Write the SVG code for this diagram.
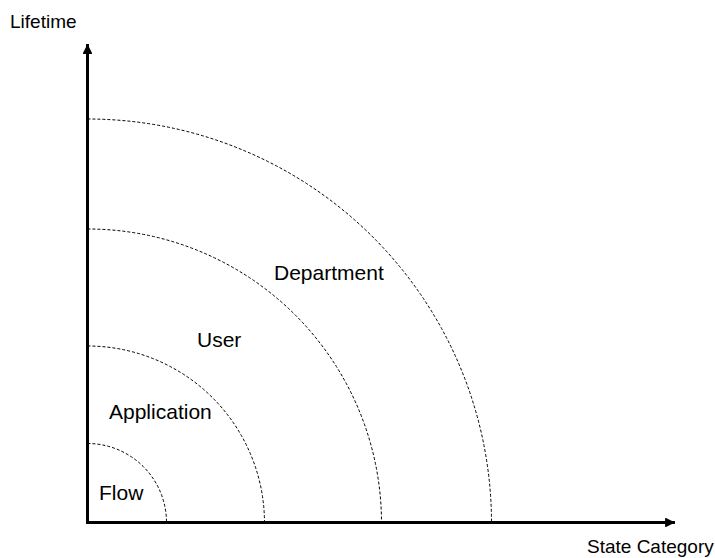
<svg xmlns="http://www.w3.org/2000/svg" width="715" height="558" viewBox="0 0 715 558">
<style>
.arc{fill:none;stroke:#000;stroke-width:1;stroke-dasharray:3 2}
.ax{stroke:#000;stroke-width:3;fill:none}
text{font-family:"Liberation Sans",Arial,sans-serif;font-size:19px;fill:#000}
.lbl{font-size:21px}
</style>
<defs>
<marker id="ah" viewBox="0 0 10 10" refX="10" refY="5" markerWidth="3.3" markerHeight="3.3" markerUnits="strokeWidth" orient="auto"><path d="M0,0 L10,5 L0,10 z" fill="#000"/></marker>
</defs>
<rect width="715" height="558" fill="#fff"/>
<g id="arcs">
<path id="flow-arc" class="arc" d="M87.5,443.5 A79,79 0 0 1 166.5,522.5"/>
<path id="application-arc" class="arc" d="M87.5,346 A177,177 0 0 1 264.5,522.5"/>
<path id="user-arc" class="arc" d="M87.5,229 A294,294 0 0 1 381.5,522.5"/>
<path id="department-arc" class="arc" d="M87.5,119 A404,404 0 0 1 491.5,522.5"/>
</g>
<g id="connectors">
<line class="ax" x1="87.5" y1="524" x2="87.5" y2="44" marker-end="url(#ah)"/>
<line class="ax" x1="86" y1="522.5" x2="675" y2="522.5" marker-end="url(#ah)"/>
</g>
<g id="lifetime"><text x="10" y="28">Lifetime</text></g>
<g id="state-category"><text x="587" y="553">State Category</text></g>
<g id="flow"><text class="lbl" x="99" y="500">Flow</text></g>
<g id="application"><text class="lbl" x="109" y="419">Application</text></g>
<g id="user"><text class="lbl" x="197" y="347">User</text></g>
<g id="department"><text class="lbl" x="274" y="280">Department</text></g>
</svg>
